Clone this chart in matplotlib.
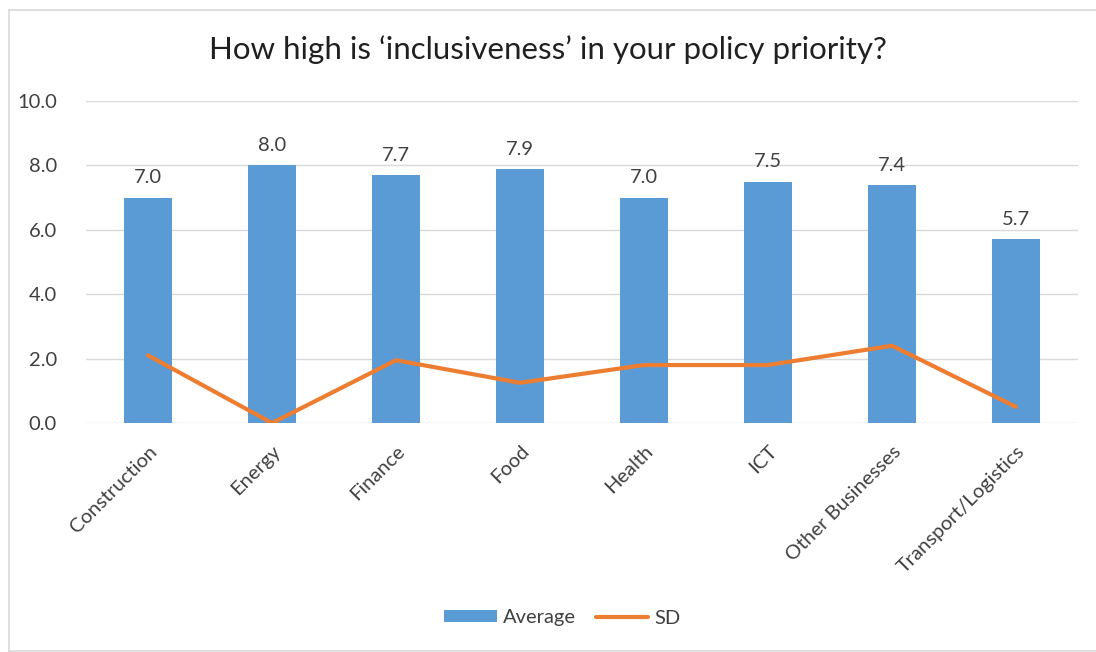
import matplotlib
matplotlib.use("Agg")
import matplotlib.pyplot as plt
from matplotlib.patches import Patch
from matplotlib.lines import Line2D

plt.rcParams['font.family'] = ['Lato', 'DejaVu Sans']

categories = ["Construction", "Energy", "Finance", "Food", "Health", "ICT",
              "Other Businesses", "Transport/Logistics"]
average = [7.0, 8.0, 7.7, 7.9, 7.0, 7.5, 7.4, 5.7]
sd = [2.1, 0.0, 1.95, 1.25, 1.8, 1.8, 2.4, 0.5]
yticks = [0, 2, 4, 6, 8, 10]

bar_color = "#5B9BD5"
line_color = "#ED7D31"
text_color = "#404040"

fig = plt.figure(figsize=(10.96, 6.52), dpi=100)
fig.patch.set_facecolor("white")

# chart frame: left, top and bottom edges
fl, ft, fb = 8.5 / 1096, 1 - 9.5 / 652, 1.5 / 652
for xs, ys in [((fl, fl), (fb, ft)), ((fl, 1.0), (ft, ft)), ((fl, 1.0), (fb, fb))]:
    fig.add_artist(Line2D(xs, ys, transform=fig.transFigure,
                          color="#D9D9D9", linewidth=1.2))

ax = fig.add_axes([86 / 1096, 1 - 423 / 652, 992 / 1096, 322 / 652])
x = list(range(len(categories)))
ax.bar(x, average, width=0.39, color=bar_color, zorder=2)
ax.plot(x, sd, color=line_color, linewidth=3.0, solid_capstyle="round",
        solid_joinstyle="round", zorder=3)

for xi, v in zip(x, average):
    ax.annotate(f"{v:.1f}", (xi, v), xytext=(0, 8), textcoords="offset points",
                ha="center", va="bottom", fontsize=14.5, color=text_color)

ax.set_xlim(-0.5, len(categories) - 0.5)
ax.set_ylim(0, 10)
ax.set_yticks(yticks)
ax.set_yticklabels([f"{t:.1f}" for t in yticks], fontsize=14.5, color=text_color)
ax.set_xticks(x)
ax.set_xticklabels(categories, rotation=45, ha="right", va="top",
                   rotation_mode="anchor", fontsize=14.5, color=text_color)
ax.tick_params(axis="both", length=0)
ax.tick_params(axis="y", pad=21)
ax.tick_params(axis="x", pad=14)
ax.grid(axis="y", color="#D9D9D9", linewidth=1.0, zorder=0)
ax.set_axisbelow(True)
for s in ax.spines.values():
    s.set_visible(False)

fig.text(0.5, 1 - 50 / 652, "How high is \u2018inclusiveness\u2019 in your policy priority?",
         ha="center", va="center", fontsize=22.5, color="#202020")

handles = [Patch(facecolor=bar_color, edgecolor="none"),
           Line2D([0], [0], color=line_color, linewidth=3.0, solid_capstyle="round")]
fig.legend(handles, ["Average", "SD"], loc="center", bbox_to_anchor=(0.513, 1 - 618 / 652),
           ncol=2, frameon=False, fontsize=14.5, handlelength=2.6, handleheight=0.55,
           columnspacing=1.0, handletextpad=0.3, labelcolor=text_color)

fig.savefig("out.png", dpi=100, facecolor="white")
